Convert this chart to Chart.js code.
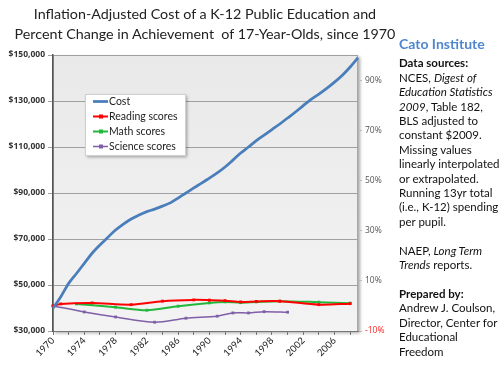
<!DOCTYPE html>
<html>
<head>
<meta charset="utf-8">
<script src="https://cdn.jsdelivr.net/npm/chart.js@4.4.0/dist/chart.umd.min.js"></script>
<style>
  body { margin: 0; background: #fff; font-family: Lato, "Open Sans", sans-serif; }
  #wrap { position: relative; width: 500px; height: 368px; overflow: hidden; }
  #chartBox { position: absolute; left: 0; top: 0; width: 400px; height: 368px; }
  #title { position: absolute; left: 0; width: 410px; top: 4px; text-align: center;
           font-size: 14.3px; line-height: 19.5px; color: #222; }
  #side { position: absolute; left: 399px; top: 37px; width: 105px; font-size: 11.5px;
          line-height: 14.4px; color: #111; }
  #side .cato { color: #4f86d0; font-weight: bold; font-size: 14px; margin-bottom: 5px; }
  #side b { font-weight: bold; }
</style>
</head>
<body>
<div id="wrap">
  <div id="chartBox"><canvas id="chart"></canvas></div>
  <div id="title">Inflation-Adjusted Cost of a K-12 Public Education and<br>Percent Change in Achievement&nbsp; of 17-Year-Olds, since 1970</div>
  <div id="side">
    <div class="cato">Cato Institute</div>
    <b>Data sources:</b><br>
    NCES, <i>Digest of Education Statistics 2009</i>, Table 182, BLS adjusted to constant $2009. Missing values linearly interpolated or extrapolated. Running 13yr total (i.e., K-12) spending per pupil.<br><br>
    NAEP, <i>Long Term Trends</i> reports.<br><br>
    <b>Prepared by:</b><br>
    Andrew J. Coulson, Director, Center for Educational Freedom
  </div>
</div>
<script>
// years on the category axis
const years = [];
for (let y = 1970; y <= 2009; y++) years.push(String(y));

// running K-12 cost per pupil, $2009
const costValues = [39900, 44900, 50700, 55000, 59400, 63800, 67400, 70700, 73900, 76500,
    78700, 80400, 81900, 83000, 84300, 85700, 87800, 90000, 92200, 94300,
    96500, 98700, 101300, 104300, 107400, 110000, 112800, 115200, 117600, 120000,
    122600, 125200, 128000, 130700, 133000, 135500, 138200, 141200, 144800, 148800];

// percent change in scores, only the test years
const readingYears = [1970, 1971, 1975, 1980, 1984, 1988, 1990, 1992, 1994, 1996, 1999, 2004, 2008];
const readingPct = [0, 0.8, 1.2, 0.5, 1.9, 2.4, 2.3, 2.1, 1.6, 1.8, 1.9, 0.5, 0.9];

const mathYears = [1973, 1978, 1982, 1986, 1990, 1992, 1994, 1996, 1999, 2004, 2008];
const mathPct = [0.8, -0.5, -1.7, -0.1, 1.2, 1.6, 1.3, 1.6, 1.9, 1.5, 1.1];

const scienceYears = [1970, 1974, 1978, 1983, 1987, 1991, 1993, 1995, 1997, 2000];
const sciencePct = [0, -2.4, -4.4, -6.5, -4.9, -4.1, -2.8, -2.8, -2.3, -2.5];

const costTicks = [30000, 50000, 70000, 90000, 110000, 130000, 150000];
const pctTicks = [-10, 10, 30, 50, 70, 90];

// spread the test-year values over the yearly categories
const spread = (yrs, vals) => years.map(y => {
    const i = yrs.indexOf(Number(y));
    return i >= 0 ? vals[i] : null;
});

const plotBg = {
    id: 'plotBg',
    beforeDraw(chart) {
        const { ctx, chartArea: a } = chart;
        ctx.save();
        ctx.shadowColor = 'rgba(0,0,0,0.35)';
        ctx.shadowOffsetX = 2;
        ctx.shadowOffsetY = 2;
        ctx.shadowBlur = 3;
        const g = ctx.createLinearGradient(a.left, a.top, a.left, a.bottom);
        g.addColorStop(0, '#e9e9e9');
        g.addColorStop(1, '#f3f3f3');
        ctx.fillStyle = g;
        ctx.fillRect(a.left, a.top, a.right - a.left, a.bottom - a.top);
        ctx.shadowColor = 'transparent';
        ctx.strokeStyle = '#a6a6a6';
        ctx.lineWidth = 1;
        ctx.strokeRect(a.left + 0.5, a.top + 0.5, a.right - a.left - 1, a.bottom - a.top);
        ctx.restore();
    }
};

// legend box sitting inside the plot, like the Excel one
const boxLegend = {
    id: 'boxLegend',
    afterDraw(chart) {
        const { ctx } = chart;
        const x = 85, y = 94, w = 100, h = 61;
        ctx.save();
        ctx.shadowColor = 'rgba(0,0,0,0.35)';
        ctx.shadowOffsetX = 2;
        ctx.shadowOffsetY = 2;
        ctx.shadowBlur = 3;
        ctx.fillStyle = '#fff';
        ctx.fillRect(x, y, w, h);
        ctx.shadowColor = 'transparent';
        ctx.strokeStyle = '#d0d0d0';
        ctx.strokeRect(x + 0.5, y + 0.5, w, h);
        ctx.font = '10.5px Lato, "Open Sans", sans-serif';
        ctx.textBaseline = 'middle';
        chart.data.datasets.forEach((ds, i) => {
            const ly = y + 7.5 + i * 15;
            ctx.strokeStyle = ds.borderColor;
            ctx.lineWidth = ds.borderWidth;
            ctx.beginPath();
            ctx.moveTo(x + 8, ly);
            ctx.lineTo(x + 23, ly);
            ctx.stroke();
            if (ds.pointRadius > 0) {
                ctx.fillStyle = ds.borderColor;
                ctx.fillRect(x + 14, ly - 2, 4, 4);
            }
            ctx.fillStyle = '#222';
            ctx.fillText(ds.label, x + 24, ly + 0.5);
        });
        ctx.restore();
    }
};

const scoreLine = (label, color, data, width) => ({
    label: label,
    data: data,
    yAxisID: 'yPct',
    borderColor: color,
    backgroundColor: color,
    borderWidth: width,
    pointRadius: 2,
    pointStyle: 'rect',
    pointBorderWidth: 0,
    spanGaps: true,
    tension: 0.3
});

const config = {
    type: 'line',
    data: {
        labels: years,
        datasets: [
            {
                label: 'Cost',
                data: costValues,
                yAxisID: 'yCost',
                borderColor: '#4a7ebb',
                backgroundColor: '#4a7ebb',
                borderWidth: 2.75,
                pointRadius: 0,
                cubicInterpolationMode: 'monotone'
            },
            scoreLine('Reading scores', '#ff0000', spread(readingYears, readingPct), 2),
            scoreLine('Math scores', '#22b83c', spread(mathYears, mathPct), 2),
            scoreLine('Science scores', '#7f5fa8', spread(scienceYears, sciencePct), 1.5)
        ]
    },
    options: {
        responsive: true,
        maintainAspectRatio: false,
        animation: false,
        layout: { padding: { top: 55, left: 0, right: 0, bottom: 0 } },
        plugins: {
            legend: { display: false },
            tooltip: { enabled: false }
        },
        scales: {
            x: {
                offset: false,
                grid: { display: true, drawOnChartArea: false, drawTicks: true, tickLength: 4, color: '#777' },
                border: { display: true, color: '#777' },
                ticks: {
                    autoSkip: false,
                    maxRotation: 45,
                    minRotation: 45,
                    padding: 0,
                    color: '#222',
                    font: { size: 9.5, family: 'Lato, "Open Sans", sans-serif' },
                    callback: function (val, i) {
                        if (i % 4 === 0) return years[i];
                        if (i % 2 === 0) return '';
                        return null;
                    }
                },
                afterFit(scale) { scale.height = 37; }
            },
            yCost: {
                position: 'left',
                min: 30000,
                max: 150000,
                afterBuildTicks(scale) { scale.ticks = costTicks.map(v => ({ value: v })); },
                grid: { color: '#a0a0a0', tickLength: 5, drawTicks: true },
                border: { display: true, color: '#555', width: 1.5 },
                ticks: {
                    color: '#333',
                    padding: 3,
                    font: { size: 8.5, weight: 'bold', family: '"Open Sans", sans-serif' },
                    callback: v => '$' + v.toLocaleString('en-US')
                },
                afterFit(scale) { scale.width = 53; }
            },
            yPct: {
                position: 'right',
                min: -10,
                max: 100,
                afterBuildTicks(scale) { scale.ticks = pctTicks.map(v => ({ value: v })); },
                grid: { drawOnChartArea: false, tickLength: 4, color: '#bbb' },
                border: { display: false },
                ticks: {
                    padding: 3,
                    color: ctx => ctx.tick.value < 0 ? '#ff2020' : '#555',
                    font: { size: 8.5, family: '"Open Sans", sans-serif' },
                    callback: v => v + '%'
                },
                afterFit(scale) { scale.width = 42; }
            }
        }
    },
    plugins: [plotBg, boxLegend]
};

const chart = new Chart(document.getElementById('chart'), config);
</script>
</body>
</html>
